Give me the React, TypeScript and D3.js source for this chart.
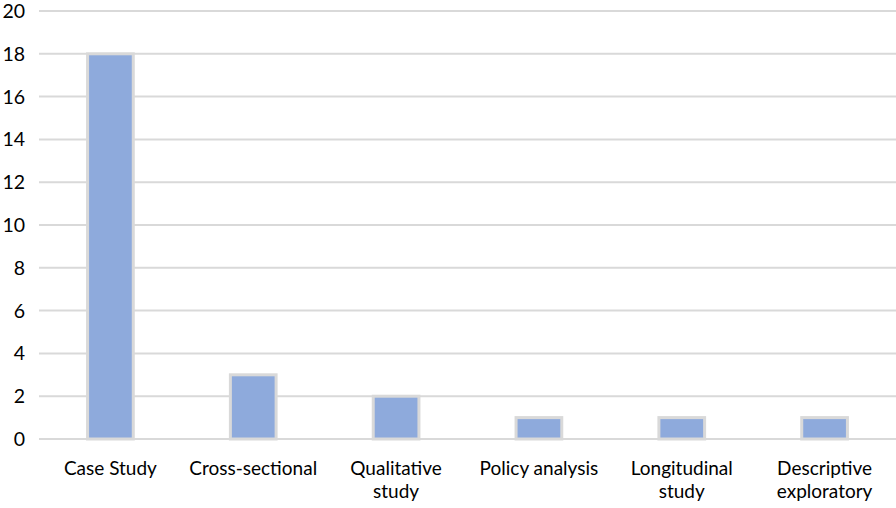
import React from "react";
import * as d3 from "d3";

const categories: string[][] = [
  ["Case Study"],
  ["Cross-sectional"],
  ["Qualitative", "study"],
  ["Policy analysis"],
  ["Longitudinal", "study"],
  ["Descriptive", "exploratory"],
];
const values: number[] = [18, 3, 2, 1, 1, 1];
const yTicks: number[] = [0, 2, 4, 6, 8, 10, 12, 14, 16, 18, 20];

const W = 896;
const H = 508;
const margin = { left: 39, right: 0, top: 11, bottom: 69 };

export default function App() {
  const x = d3
    .scaleBand<number>()
    .domain(values.map((_, i) => i))
    .range([margin.left, W - margin.right])
    .paddingInner(0.68)
    .paddingOuter(0.34);
  const y = d3.scaleLinear().domain([0, 20]).range([H - margin.bottom, margin.top]);
  const font = "Lato, 'Open Sans', sans-serif";
  return (
    <svg
      width={W}
      height={H}
      style={{ position: "absolute", left: 0, top: 0, background: "#fff" }}
      fontFamily={font}
    >
      {yTicks.map((t) => (
        <g key={t}>
          <line x1={margin.left} x2={W} y1={y(t)} y2={y(t)} stroke="#d9d9d9" strokeWidth={2} />
          <text x={25} y={y(t)} dy="0.36em" textAnchor="end" fontSize={19.5} fill="#000">
            {t}
          </text>
        </g>
      ))}
      {values.map((v, i) => (
        <rect
          key={i}
          x={x(i)!}
          y={y(v)}
          width={x.bandwidth()}
          height={y(0) - y(v)}
          fill="#8eaadc"
          stroke="#d9d9d9"
          strokeWidth={3}
        />
      ))}
      {categories.map((lines, i) => (
        <text
          key={i}
          x={x(i)! + x.bandwidth() / 2}
          y={475}
          textAnchor="middle"
          fontSize={19}
          fill="#000"
        >
          {lines.map((l, j) => (
            <tspan key={j} x={x(i)! + x.bandwidth() / 2} dy={j === 0 ? 0 : 23}>
              {l}
            </tspan>
          ))}
        </text>
      ))}
    </svg>
  );
}
